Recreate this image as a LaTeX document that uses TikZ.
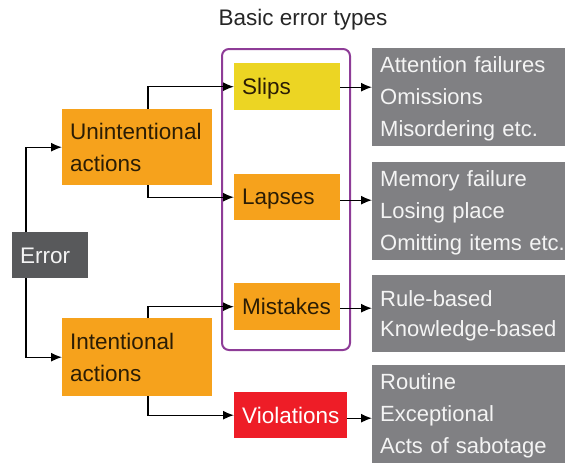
\documentclass[tikz,border=0pt]{standalone}
\usepackage{fontspec}
\setmainfont{Liberation Sans}
\usetikzlibrary{calc,arrows.meta}
\definecolor{orangebox}{HTML}{F6A21C}
\definecolor{yellowbox}{HTML}{ECD523}
\definecolor{redbox}{HTML}{EE1D27}
\definecolor{darkbox}{HTML}{58595B}
\definecolor{greybox}{HTML}{808083}
\definecolor{purpleline}{HTML}{8E3C97}
\definecolor{darktext}{HTML}{2B1D05}
\definecolor{lighttext}{HTML}{F4F4F4}
\newcommand\ms{\rule[-4pt]{0pt}{24pt}}
\begin{document}
\begin{tikzpicture}[x=1pt,y=-1pt,
  bx/.style={rectangle, anchor=north west, inner xsep=8pt, inner ysep=0pt, align=left,
             font=\fontsize{22.5}{32}\selectfont},
  obox/.style={bx, fill=orangebox, text=darktext},
  gbox/.style={bx, fill=greybox, text=lighttext, text width=230pt, font=\fontsize{22}{32}\selectfont},
  arr/.style={draw=black, line width=1.4pt, -{Latex[length=11pt,width=9pt]}}]
\useasboundingbox (0,0) rectangle (565,464);

% title
\node[font=\fontsize{22.5}{27}\selectfont, text=black!85] (title) at (303,20) {Basic error types};

% purple group frame
\draw[purpleline, line width=2pt, rounded corners=7pt] (222,49) rectangle (350,350);

% left column
\node[bx, fill=darkbox, text=lighttext, text width=60pt, minimum height=46pt] (error) at (12,232) {\ms Error};
\node[obox, text width=134pt, minimum height=76pt] (unint) at (62,109) {\ms Unintentional\\actions\ms};
\node[obox, text width=134pt, minimum height=78pt] (inten) at (62,318) {\ms Intentional\\actions\ms};

% error types
\node[bx, fill=yellowbox, text=darktext, text width=90pt, minimum height=47pt] (slips) at (234,63) {\ms Slips};
\node[obox, text width=90pt, minimum height=46pt] (lapses) at (234,174) {\ms Lapses};
\node[obox, text width=90pt, minimum height=47pt] (mistakes) at (234,283) {\ms Mistakes};
\node[bx, fill=redbox, text=white, text width=97pt, minimum height=46pt] (viol) at (234,392) {\ms Violations};

% descriptions
\node[gbox, minimum height=98pt] (g1) at (372,48) {\ms Attention failures\\Omissions\\Misordering etc.\ms};
\node[gbox, minimum height=98pt] (g2) at (372,162) {\ms Memory failure\\Losing place\\Omitting items etc.\ms};
\node[gbox, minimum height=77pt, font=\fontsize{22}{29.5}\selectfont] (g3) at (372,275) {\ms Rule-based\\Knowledge-based\ms};
\node[gbox, minimum height=98pt] (g4) at (372,365) {\ms Routine\\Exceptional\\Acts of sabotage\ms};

% connectors from Error
\draw[arr] ($(error.north west)+(14,0)$) |- (unint.west);
\draw[arr] ($(error.south west)+(14,0)$) |- (inten.west);

% connectors to error types
\draw[arr] ($(unint.north west)+(86,0)$) |- (slips.west);
\draw[arr] ($(unint.south west)+(86,0)$) |- (lapses.west);
\draw[arr] ($(inten.north west)+(86,0)$) |- (mistakes.west);
\draw[arr] ($(inten.south west)+(86,0)$) |- (viol.west);

% connectors to descriptions
\coordinate (s1) at ($(slips.east)+(0,0.5)$);
\coordinate (s2) at ($(lapses.east)+(0,3)$);
\coordinate (s3) at ($(mistakes.east)+(0,1.5)$);
\coordinate (s4) at ($(viol.east)+(0,3)$);
\draw[arr] (s1) -- (s1 -| g1.west);
\draw[arr] (s2) -- (s2 -| g2.west);
\draw[arr] (s3) -- (s3 -| g3.west);
\draw[arr] (s4) -- (s4 -| g4.west);
\end{tikzpicture}
\end{document}
